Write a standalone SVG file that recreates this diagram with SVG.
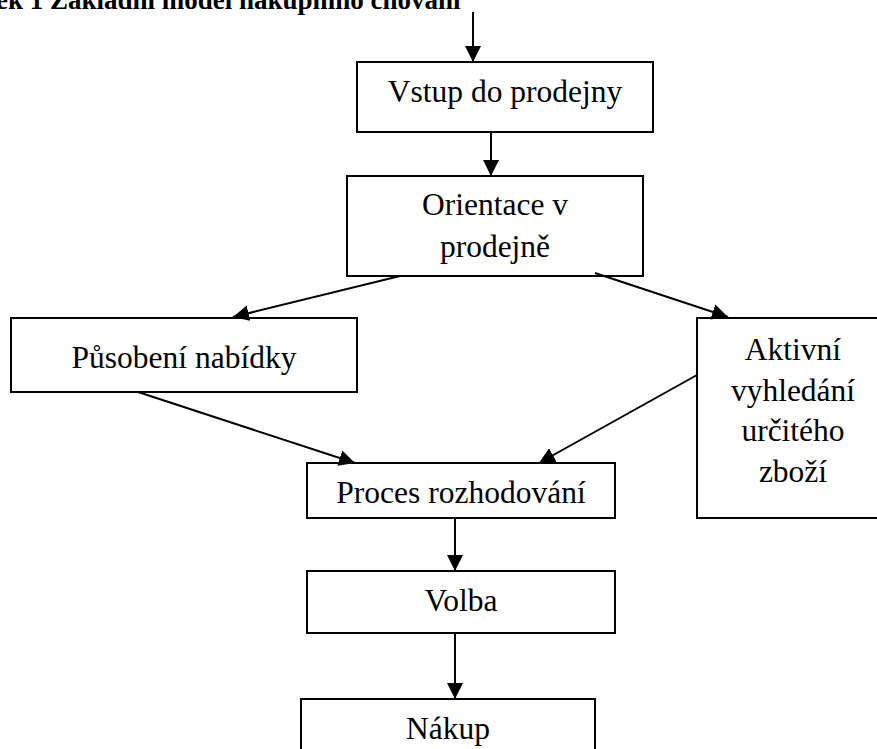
<svg xmlns="http://www.w3.org/2000/svg" width="877" height="749" viewBox="0 0 877 749">
<style>
.box{fill:#fff;stroke:#000;stroke-width:2}
.t{font-family:"Liberation Serif","Times New Roman",serif;font-size:31.5px;fill:#000;text-anchor:middle}
.title{font-family:"Liberation Serif","Times New Roman",serif;font-size:27px;font-weight:bold;fill:#000}
.c line{stroke:#000;stroke-width:2;marker-end:url(#ah)}
</style>
<defs>
<marker id="ah" viewBox="0 0 16 16" refX="16" refY="8" markerWidth="16" markerHeight="16" markerUnits="userSpaceOnUse" orient="auto">
<path d="M0,0 L16,8 L0,16 z" fill="#000"/>
</marker>
</defs>
<rect width="877" height="749" fill="#fff"/>
<text class="title" x="-4" y="9">ek 1 Základní model nákupního chování</text>
<g id="vstup"><rect class="box" x="357" y="62" width="296" height="70"/><text class="t" x="505" y="102">Vstup do prodejny</text></g>
<g id="orientace"><rect class="box" x="347" y="176" width="296" height="100"/><text class="t" x="495" y="215">Orientace v</text><text class="t" x="495" y="257">prodejně</text></g>
<g id="pusobeni"><rect class="box" x="11" y="318" width="346" height="74"/><text class="t" x="184" y="368">Působení nabídky</text></g>
<g id="aktivni"><rect class="box" x="697" y="318" width="200" height="200"/><text class="t" x="793" y="360">Aktivní</text><text class="t" x="793" y="401">vyhledání</text><text class="t" x="793" y="441">určitého</text><text class="t" x="793" y="482">zboží</text></g>
<g id="proces"><rect class="box" x="307" y="463" width="308" height="55"/><text class="t" x="461" y="503">Proces rozhodování</text></g>
<g id="volba"><rect class="box" x="307" y="571" width="308" height="62"/><text class="t" x="461" y="611">Volba</text></g>
<g id="nakup"><rect class="box" x="301" y="699" width="294" height="70"/><text class="t" x="448" y="739">Nákup</text></g>
<g class="c" id="connectors">
<line x1="473" y1="12" x2="473" y2="62"/>
<line x1="491" y1="132" x2="491" y2="176"/>
<line x1="400" y1="276" x2="233" y2="317"/>
<line x1="595" y1="273" x2="728" y2="317"/>
<line x1="138" y1="392" x2="355" y2="463"/>
<line x1="697" y1="375" x2="539" y2="463"/>
<line x1="455" y1="518" x2="455" y2="571"/>
<line x1="455" y1="633" x2="455" y2="699"/>
</g>
</svg>
